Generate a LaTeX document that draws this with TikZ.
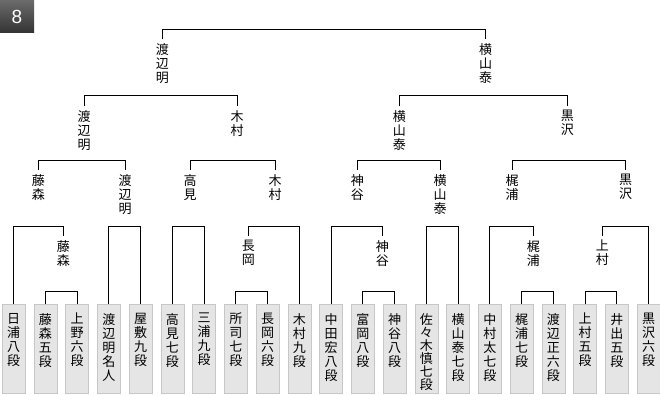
\documentclass[tikz,border=0pt]{standalone}
\usepackage{fontspec}
\newfontfamily\jp{Noto Sans CJK JP}
\newfontfamily\badgefont{Liberation Sans}

\begin{document}
\begin{tikzpicture}[x=1pt, y=-1pt, font=\jp\fontsize{13}{14}\selectfont]
        \tikzset{
            bracket/.style={draw=black, line width=1pt},
            player/.style={
                draw=black!22,
                fill=black!10,
                inner sep=0pt,
                minimum width=23pt,
                minimum height=89pt,
                anchor=north
            },
            playername/.style={align=center, inner sep=0pt, anchor=north, yshift=-9pt},
            winner/.style={align=center, inner xsep=0pt, inner ysep=4pt, anchor=north},
            badge/.style={
                top color=black!58,
                bottom color=black!80,
                text=white,
                minimum width=34pt,
                minimum height=33pt,
                inner sep=0pt,
                font=\badgefont\fontsize{19}{19}\selectfont
            }
        }

        \useasboundingbox (0,0) rectangle (660,395);
        \node[badge] (round) at (17,16.5) {8};

        % bracket heights
        \coordinate (rowA) at (0,291);
        \coordinate (rowB) at (0,226);
        \coordinate (rowC) at (0,161);
        \coordinate (rowD) at (0,96);
        \coordinate (rowE) at (0,30);

        % players
        \node[player] (hiura) at (13.5,304) {};
        \node[player] (fujimori) at (45.25,304) {};
        \node[player] (ueno) at (77,304) {};
        \node[player] (watanabe) at (108.75,304) {};
        \node[player] (yashiki) at (140.5,304) {};
        \node[player] (takami) at (172.25,304) {};
        \node[player] (miura) at (204,304) {};
        \node[player] (shoji) at (235.75,304) {};
        \node[player] (nagaoka) at (267.5,304) {};
        \node[player] (kimura) at (299.25,304) {};
        \node[player] (nakata) at (331,304) {};
        \node[player] (tomioka) at (362.75,304) {};
        \node[player] (kamiya) at (394.5,304) {};
        \node[player] (sasaki) at (426.25,304) {};
        \node[player] (yokoyama) at (458,304) {};
        \node[player] (nakamura) at (489.75,304) {};
        \node[player] (kajiura) at (521.5,304) {};
        \node[player] (watanabeT) at (553.25,304) {};
        \node[player] (kamimura) at (585,304) {};
        \node[player] (ide) at (616.75,304) {};
        \node[player] (kurosawa) at (648.5,304) {};

        \node[playername] (hiuraName) at (hiura.north) {日\\浦\\八\\段};
        \node[playername] (fujimoriName) at (fujimori.north) {藤\\森\\五\\段};
        \node[playername] (uenoName) at (ueno.north) {上\\野\\六\\段};
        \node[playername] (watanabeName) at (watanabe.north) {渡\\辺\\明\\名\\人};
        \node[playername] (yashikiName) at (yashiki.north) {屋\\敷\\九\\段};
        \node[playername] (takamiName) at (takami.north) {高\\見\\七\\段};
        \node[playername] (miuraName) at (miura.north) {三\\浦\\九\\段};
        \node[playername] (shojiName) at (shoji.north) {所\\司\\七\\段};
        \node[playername] (nagaokaName) at (nagaoka.north) {長\\岡\\六\\段};
        \node[playername] (kimuraName) at (kimura.north) {木\\村\\九\\段};
        \node[playername] (nakataName) at (nakata.north) {中\\田\\宏\\八\\段};
        \node[playername] (tomiokaName) at (tomioka.north) {富\\岡\\八\\段};
        \node[playername] (kamiyaName) at (kamiya.north) {神\\谷\\八\\段};
        \node[playername, font=\jp\fontsize{13}{13}\selectfont] (sasakiName) at (sasaki.north) {佐\\々\\木\\慎\\七\\段};
        \node[playername] (yokoyamaName) at (yokoyama.north) {横\\山\\泰\\七\\段};
        \node[playername] (nakamuraName) at (nakamura.north) {中\\村\\太\\七\\段};
        \node[playername] (kajiuraName) at (kajiura.north) {梶\\浦\\七\\段};
        \node[playername] (watanabeTName) at (watanabeT.north) {渡\\辺\\正\\六\\段};
        \node[playername] (kamimuraName) at (kamimura.north) {上\\村\\五\\段};
        \node[playername] (ideName) at (ide.north) {井\\出\\五\\段};
        \node[playername] (kurosawaName) at (kurosawa.north) {黒\\沢\\六\\段};

        % winners
        \node[winner] (fujimori1) at (63.3,236) {藤\\森};
        \node[winner] (nagaoka1) at (248.3,236) {長\\岡};
        \node[winner] (kamiya1) at (382.3,236) {神\\谷};
        \node[winner] (kajiura1) at (533.3,236) {梶\\浦};
        \node[winner] (kamimura1) at (602.3,236) {上\\村};

        \node[winner] (fujimori2) at (38.3,170) {藤\\森};
        \node[winner] (watanabe2) at (125,170) {渡\\辺\\明};
        \node[winner] (takami2) at (190,170) {高\\見};
        \node[winner] (kimura2) at (275,170) {木\\村};
        \node[winner] (kamiya2) at (357.3,170) {神\\谷};
        \node[winner] (yokoyama2) at (440,170) {横\\山\\泰};
        \node[winner] (kajiura2) at (512,170) {梶\\浦};
        \node[winner] (kurosawa2) at (625.5,170) {黒\\沢};

        \node[winner] (watanabe3) at (84,106) {渡\\辺\\明};
        \node[winner] (kimura3) at (237,106) {木\\村};
        \node[winner] (yokoyama3) at (399.3,106) {横\\山\\泰};
        \node[winner] (kurosawa3) at (567.3,106) {黒\\沢};

        \node[winner] (watanabe4) at (162.3,39.3) {渡\\辺\\明};
        \node[winner] (yokoyama4) at (485.7,39.3) {横\\山\\泰};

        % first round
        \draw[bracket] (fujimori.north) |- (ueno.north |- rowA) -- (ueno.north);
        \draw[bracket] (shoji.north) |- (nagaoka.north |- rowA) -- (nagaoka.north);
        \draw[bracket] (tomioka.north) |- (kamiya.north |- rowA) -- (kamiya.north);
        \draw[bracket] (kajiura.north) |- (watanabeT.north |- rowA) -- (watanabeT.north);
        \draw[bracket] (kamimura.north) |- (ide.north |- rowA) -- (ide.north);

        % second round
        \draw[bracket] (hiura.north) |- (fujimori1.north |- rowB) -- (fujimori1.north);
        \draw[bracket] (watanabe.north) |- (yashiki.north |- rowB) -- (yashiki.north);
        \draw[bracket] (takami.north) |- (miura.north |- rowB) -- (miura.north);
        \draw[bracket] (nagaoka1.north) |- (kimura.north |- rowB) -- (kimura.north);
        \draw[bracket] (nakata.north) |- (kamiya1.north |- rowB) -- (kamiya1.north);
        \draw[bracket] (sasaki.north) |- (yokoyama.north |- rowB) -- (yokoyama.north);
        \draw[bracket] (nakamura.north) |- (kajiura1.north |- rowB) -- (kajiura1.north);
        \draw[bracket] (kamimura1.north) |- (kurosawa.north |- rowB) -- (kurosawa.north);

        % third round and up
        \draw[bracket] (fujimori2.north) |- (watanabe2.north |- rowC) -- (watanabe2.north);
        \draw[bracket] (takami2.north) |- (kimura2.north |- rowC) -- (kimura2.north);
        \draw[bracket] (kamiya2.north) |- (yokoyama2.north |- rowC) -- (yokoyama2.north);
        \draw[bracket] (kajiura2.north) |- (kurosawa2.north |- rowC) -- (kurosawa2.north);

        \draw[bracket] (watanabe3.north) |- (kimura3.north |- rowD) -- (kimura3.north);
        \draw[bracket] (yokoyama3.north) |- (kurosawa3.north |- rowD) -- (kurosawa3.north);

        \draw[bracket] (watanabe4.north) |- (yokoyama4.north |- rowE) -- (yokoyama4.north);
    \end{tikzpicture}
\end{document}
